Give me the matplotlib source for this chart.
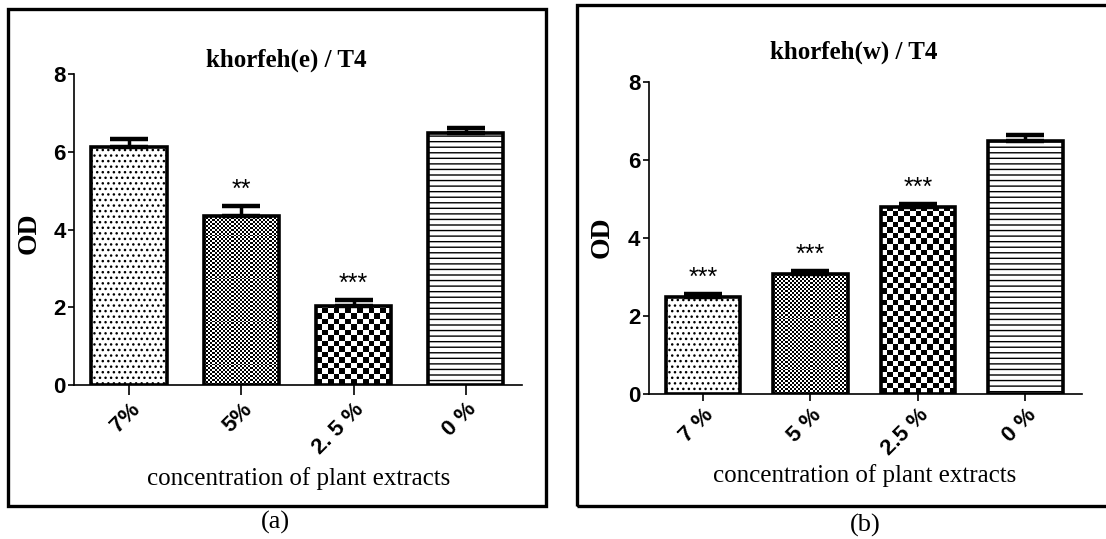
import numpy as np
import matplotlib
matplotlib.use("Agg")
import matplotlib.pyplot as plt
from matplotlib.patches import Rectangle
from matplotlib.transforms import ScaledTranslation

# data
labels_e = ["7%", "5%", "2. 5 %", "0 %"]
od_e = [6.12, 4.35, 2.03, 6.47]
err_e = [0.20, 0.25, 0.16, 0.14]
stars_e = ["", "**", "***", ""]

labels_w = ["7 %", "5 %", "2.5 %", "0 %"]
od_w = [2.47, 3.06, 4.78, 6.48]
err_w = [0.09, 0.09, 0.07, 0.15]
stars_w = ["***", "***", "***", ""]

W, H = 1106, 539
SANS = "Liberation Sans"
SERIF = "Liberation Serif"
fills = ["dots", "fine", "coarse", "lines"]


def checker(ax, bar, cell_w, cell_h):
    x0, w, h = bar.get_x(), bar.get_width(), bar.get_height()
    ncol = int(round(w / cell_w))
    nrow = int(np.ceil(h / cell_h))
    grid = np.indices((nrow, ncol)).sum(axis=0) % 2
    im = ax.imshow(grid, cmap="gray", extent=(x0, x0 + w, 0, nrow * cell_h),
                   origin="lower", aspect="auto", interpolation="nearest", zorder=2)
    im.set_clip_path(bar)


def panel(ax, labels, vals, errs, stars, title, width, xlim, tlen, tpad):
    x = np.arange(len(vals))
    bars = ax.bar(x, vals, width=width, color="white", edgecolor="black",
                  linewidth=0, zorder=1)
    for b, f in zip(bars, fills):
        if f == "dots":
            b.set_hatch("...")
        elif f == "lines":
            b.set_hatch("---")
        elif f == "fine":
            checker(ax, b, width / 36, 0.05)
        else:
            checker(ax, b, width / 13, 0.142)
    ax.bar(x, vals, width=width, fill=False, edgecolor="black", linewidth=2.6, zorder=3)
    ax.errorbar(x, vals, yerr=[np.zeros(len(errs)), errs], fmt="none", ecolor="black",
                elinewidth=2.5, capsize=14, capthick=3.2, zorder=2.5)
    for xi, v, e, s in zip(x, vals, errs, stars):
        if s:
            ax.annotate(s, (xi, v + e), xytext=(0, 3), textcoords="offset points",
                        ha="center", va="bottom", fontsize=18, family=SANS)
    ax.set_xlim(*xlim)
    ax.set_ylim(0, 8)
    ax.set_yticks([0, 2, 4, 6, 8])
    ax.set_xticks(x)
    ax.set_xticklabels(labels, rotation=45, ha="right", rotation_mode="anchor",
                       fontsize=16, fontweight="bold", family=SANS)
    shift = ScaledTranslation(8 / 100, 0, ax.figure.dpi_scale_trans)
    for t in ax.get_xticklabels():
        t.set_transform(t.get_transform() + shift)
    for t in ax.get_yticklabels():
        t.set_fontsize(16)
        t.set_fontweight("bold")
        t.set_family(SANS)
    ax.spines[["top", "right"]].set_visible(False)
    ax.spines[["left", "bottom"]].set_linewidth(1.2)
    ax.tick_params(axis="y", length=4, width=1.2, pad=2)
    ax.tick_params(axis="x", length=tlen, width=1.2, pad=3)
    ax.set_title(title, x=0.474, pad=tpad, fontsize=18, fontweight="bold", family=SERIF)


fig = plt.figure(figsize=(W / 100, H / 100), dpi=100)
ax1 = fig.add_axes([74 / W, 1 - 385 / H, 448 / W, 311 / H])
ax2 = fig.add_axes([648.6 / W, 1 - 393.6 / H, 433.4 / W, 312.1 / H])

panel(ax1, labels_e, od_e, err_e, stars_e, "khorfeh(e) / T4", 0.67, (-0.49, 3.5), 7, 5)
panel(ax2, labels_w, od_w, err_w, stars_w, "khorfeh(w) / T4", 0.69, (-0.506, 3.526), 5, 16.5)

# outer frames
fig.patches.append(Rectangle((8 / W, 1 - 506 / H), 538 / W, 497 / H, fill=False,
                             edgecolor="black", linewidth=2.4, transform=fig.transFigure))
fig.patches.append(Rectangle((576.7 / W, 1 - 506 / H), 0.6, 501 / H, fill=False,
                             edgecolor="black", linewidth=2.4, transform=fig.transFigure))

fig.text(29 / W, 1 - 233 / H, "OD", rotation=90, ha="center", va="center",
         fontsize=20, fontweight="bold", family=SERIF)
fig.text(602 / W, 1 - 237 / H, "OD", rotation=90, ha="center", va="center",
         fontsize=20, fontweight="bold", family=SERIF)
fig.text(299 / W, 1 - 479 / H, "concentration of plant extracts", ha="center", va="center",
         fontsize=18, family=SERIF)
fig.text(865 / W, 1 - 476 / H, "concentration of plant extracts", ha="center", va="center",
         fontsize=18, family=SERIF)
fig.text(275 / W, 1 - 522 / H, "(a)", ha="center", va="center", fontsize=19, family=SERIF)
fig.text(865 / W, 1 - 525 / H, "(b)", ha="center", va="center", fontsize=19, family=SERIF)

fig.savefig("out.png", dpi=100)
